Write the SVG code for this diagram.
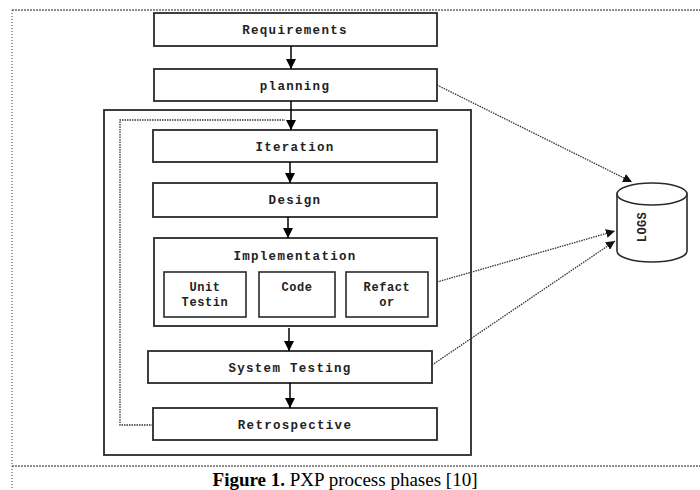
<svg xmlns="http://www.w3.org/2000/svg" width="700" height="490" viewBox="0 0 700 490">
<defs>
<marker id="ah" viewBox="0 0 10 10" refX="10" refY="5" markerWidth="10" markerHeight="10" markerUnits="userSpaceOnUse" orient="auto">
<path d="M0,0 L10,5 L0,10 Z" fill="#000"/>
</marker>
<marker id="ahs" viewBox="0 0 10 10" refX="10" refY="5" markerWidth="9" markerHeight="9" markerUnits="userSpaceOnUse" orient="auto">
<path d="M0,0 L10,5 L0,10 Z" fill="#111"/>
</marker>
</defs>
<style>
.box{fill:#fff;stroke:#2a2a2a;stroke-width:1.8}
.sub{fill:#fff;stroke:#2a2a2a;stroke-width:1.6}
.t{font-family:"Liberation Mono","Courier New",monospace;font-weight:bold;font-size:12.5px;letter-spacing:1.3px;fill:#222;text-anchor:middle}
.ts{font-family:"Liberation Mono","Courier New",monospace;font-weight:bold;font-size:12px;letter-spacing:0.6px;fill:#222;text-anchor:middle}
.solid{stroke:#000;stroke-width:1.5;fill:none}
.dot{stroke:#333;stroke-width:1.3;stroke-dasharray:1.5 1;fill:none}
.frame{stroke:#666;stroke-width:1.3;stroke-dasharray:2 1;fill:none}
</style>
<rect width="700" height="490" fill="#fff"/>
<g id="frame">
<line class="frame" x1="12" y1="10" x2="700" y2="10"/>
<line class="frame" x1="12" y1="10" x2="12" y2="490" style="stroke-dasharray:1 2"/>
<line class="frame" x1="12" y1="466" x2="700" y2="466"/>
</g>
<g id="container"><rect class="box" x="104" y="110" width="367" height="345"/></g>
<g id="requirements"><rect class="box" x="154" y="13" width="283" height="33"/><text class="t" x="295" y="34">Requirements</text></g>
<g id="planning"><rect class="box" x="154" y="69" width="283" height="32"/><text class="t" x="295" y="90">planning</text></g>
<g id="iteration"><rect class="box" x="153" y="130" width="284" height="32"/><text class="t" x="295" y="151">Iteration</text></g>
<g id="design"><rect class="box" x="153" y="183" width="284" height="34"/><text class="t" x="295" y="204">Design</text></g>
<g id="implementation"><rect class="box" x="154" y="238" width="283" height="88"/><text class="t" x="295" y="260">Implementation</text>
<g id="unit-testing"><rect class="sub" x="164" y="272" width="82" height="45"/><text class="ts" x="205" y="291">Unit</text><text class="ts" x="205" y="306">Testin</text></g>
<g id="code"><rect class="sub" x="259" y="272" width="76" height="45"/><text class="ts" x="297" y="291">Code</text></g>
<g id="refactor"><rect class="sub" x="346" y="272" width="82" height="45"/><text class="ts" x="387" y="291">Refact</text><text class="ts" x="387" y="306">or</text></g>
</g>
<g id="system-testing"><rect class="box" x="148" y="351" width="284" height="32"/><text class="t" x="290" y="372">System Testing</text></g>
<g id="retrospective"><rect class="box" x="153" y="408" width="284" height="32"/><text class="t" x="295" y="429">Retrospective</text></g>
<g id="logs">
<path d="M617,194 L617,251 A35,11 0 0 0 687,251 L687,194" fill="#fff" stroke="#2a2a2a" stroke-width="1.6"/>
<ellipse cx="652" cy="194" rx="35" ry="11" fill="#fff" stroke="#2a2a2a" stroke-width="1.6"/>
<text class="ts" x="0" y="0" transform="translate(646,227) rotate(-90)" style="font-size:12px;letter-spacing:0.4px">LOGS</text>
</g>
<g id="connectors">
<line class="solid" x1="291" y1="46" x2="291" y2="69" marker-end="url(#ah)"/>
<line class="solid" x1="291" y1="101" x2="291" y2="130" marker-end="url(#ah)"/>
<line class="solid" x1="290" y1="162" x2="290" y2="183" marker-end="url(#ah)"/>
<line class="solid" x1="288" y1="217" x2="288" y2="238" marker-end="url(#ah)"/>
<line class="solid" x1="289" y1="328" x2="289" y2="351" marker-end="url(#ah)"/>
<line class="solid" x1="290" y1="383" x2="290" y2="408" marker-end="url(#ah)"/>
<polyline class="dot" points="153,425 120,425 120,120 285,120"/>
<line class="dot" x1="437" y1="85" x2="632" y2="182" marker-end="url(#ahs)"/>
<line class="dot" x1="437" y1="282" x2="615" y2="231" marker-end="url(#ahs)"/>
<line class="dot" x1="432" y1="365" x2="615" y2="241" marker-end="url(#ahs)"/>
</g>
<g id="caption">
<text x="345" y="486" font-family="Liberation Serif,'Times New Roman',serif" font-size="19" text-anchor="middle" fill="#000"><tspan font-weight="bold">Figure 1.</tspan> PXP process phases [10]</text>
</g>
</svg>
